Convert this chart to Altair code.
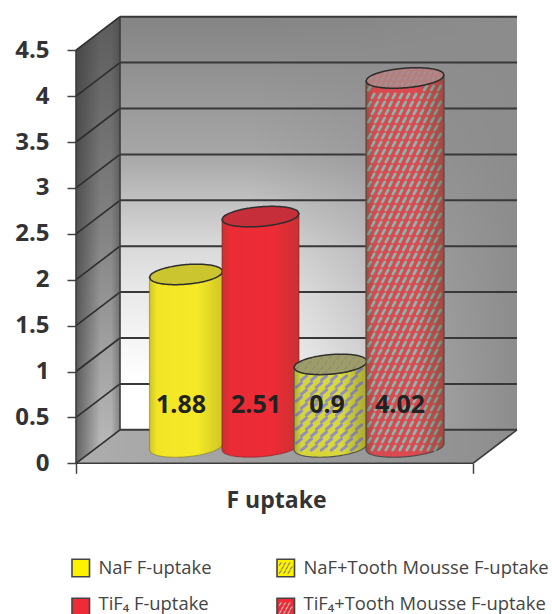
import altair as alt
import numpy as np
import pandas as pd

# Measured fluoride uptake per treatment
groups = ["NaF F-uptake", "TiF₄ F-uptake", "NaF+Tooth Mousse F-uptake", "TiF₄+Tooth Mousse F-uptake"]
uptake = [1.88, 2.51, 0.9, 4.02]
y_ticks = [0, 0.5, 1, 1.5, 2, 2.5, 3, 3.5, 4, 4.5]
axis_title = "F uptake"

# Layout of the pseudo-3D box, in chart pixels
W, H = 552, 614
FRONT_L, FRONT_R = 76, 473
DEPTH_X, DEPTH_Y = 44, 33.5
Y0_PX, PX_PER_UNIT = 463.3, 91.8
centers = [186, 260.5, 330.5, 405]
half_widths = [36.5, 38.5, 36.5, 39]
label_x = [181, 256, 327, 400]
CAP_B, CAP_TILT = 9.8, 3.0


def val(px):
    """Pixel height expressed in axis units."""
    return (Y0_PX - px) / PX_PER_UNIT


RISE = DEPTH_Y / PX_PER_UNIT
x_scale = alt.Scale(domain=[0, W], range=[0, W], nice=False, zero=False)
y_scale = alt.Scale(domain=[val(H), val(0)], range=[H, 0], nice=False, zero=False)

# Every layer carries the same axis definition so they merge into one pair of axes
x_axis = alt.Axis(values=[FRONT_L, FRONT_R], labels=False, domain=False, grid=False,
                  orient="bottom", offset=Y0_PX - H, tickSize=10, tickWidth=1.5,
                  tickColor="#444444", title=axis_title, titleFont="Open Sans",
                  titleFontSize=23, titleFontWeight="bold", titleColor="#333333",
                  titleX=276, titleY=26)
y_axis = alt.Axis(values=y_ticks, format="~g", domain=False, grid=False, orient="left", offset=-FRONT_L,
                  tickSize=9, tickWidth=1.5, tickColor="#444444", labelPadding=18,
                  labelFont="Open Sans", labelFontSize=24, labelFontWeight="bold",
                  labelColor="#333333", title=None)
X = lambda f: alt.X(f, type="quantitative", scale=x_scale, axis=x_axis)
Y = lambda f: alt.Y(f, type="quantitative", scale=y_scale, axis=y_axis)


def hgrad(stops):
    return alt.Gradient(gradient="linear", x1=0, x2=1, y1=0, y2=0,
                        stops=[alt.GradientStop(offset=o, color=c) for o, c in stops])


def vgrad(stops):
    return alt.Gradient(gradient="linear", x1=0, x2=0, y1=0, y2=1,
                        stops=[alt.GradientStop(offset=o, color=c) for o, c in stops])


def area(df, **mark):
    return alt.Chart(df).mark_area(orient="vertical", **mark).encode(
        x=X("x"), y=Y("y"), y2=alt.Y2("y2"))


def rules(df, **mark):
    return alt.Chart(df).mark_rule(**mark).encode(
        x=X("x"), x2=alt.X2("x2"), y=Y("y"), y2=alt.Y2("y2"))


layers = []

# Back wall: light towards the floor, darker towards the top and the right
back = pd.DataFrame({"x": [FRONT_L + DEPTH_X, FRONT_R + DEPTH_X],
                     "y": [4.5 + RISE] * 2, "y2": [RISE] * 2})
layers.append(area(back, color=vgrad([(0, "#848484"), (0.33, "#a6a6a6"), (0.44, "#c0c0c0"), (0.55, "#d8d8d8"),
                                      (0.66, "#e8e8e8"), (0.78, "#f5f5f5"), (0.88, "#ffffff"), (1, "#ffffff")])))
layers.append(area(back, color=hgrad([(0, "rgba(140,140,140,0)"), (0.33, "rgba(140,140,140,0)"),
                                      (0.6, "rgba(140,140,140,0.35)"), (0.82, "rgba(140,140,140,0.85)"),
                                      (1, "rgba(140,140,140,1)")])))

# Side wall
side = pd.DataFrame({"x": [FRONT_L, FRONT_L + DEPTH_X], "y": [4.5, 4.5 + RISE], "y2": [0, RISE]})
layers.append(area(side, color=vgrad([(0, "#5c5c5c"), (0.45, "#808080"), (1, "#bcbcbc")])))
layers.append(area(side, color=hgrad([(0, "rgba(60,60,60,0.7)"), (0.55, "rgba(60,60,60,0)"),
                                      (0.8, "rgba(60,60,60,0)"), (1, "rgba(60,60,60,0.4)")])))

# Floor
floor = pd.DataFrame({"x": [FRONT_L, FRONT_L + DEPTH_X], "x2": [FRONT_R, FRONT_R + DEPTH_X], "y": [0, RISE]})
layers.append(alt.Chart(floor).mark_area(orient="horizontal", color=hgrad([(0, "#adadad"), (1, "#8e8e8e")])).encode(
    y=Y("y"), x=X("x"), x2=alt.X2("x2")))

# Gridlines along the back wall and across the side wall
ticks = np.array(y_ticks, dtype=float)
grid_back = pd.DataFrame({"x": FRONT_L + DEPTH_X, "x2": FRONT_R + DEPTH_X, "y": ticks + RISE, "y2": ticks + RISE})
grid_side = pd.DataFrame({"x": FRONT_L, "x2": FRONT_L + DEPTH_X, "y": ticks, "y2": ticks + RISE})
layers.append(rules(grid_back, color="#383838", strokeWidth=2))
layers.append(rules(grid_side, color="#2e2e2e", strokeWidth=1.6))

# Box edges
edges = pd.DataFrame({
    "x": [FRONT_L, FRONT_L + DEPTH_X, FRONT_L, FRONT_R],
    "x2": [FRONT_L, FRONT_L + DEPTH_X, FRONT_R, FRONT_R + DEPTH_X],
    "y": [0, RISE, 0, 0],
    "y2": [4.5, 4.5 + RISE, 0, RISE],
})
layers.append(rules(edges, color="#3c3c3c", strokeWidth=1.6))


def cap_edges(cx, a, level, n=61):
    """Upper and lower arcs of a tilted elliptical cap, with the centre at axis value `level`."""
    xs = np.linspace(cx - a, cx + a, n)
    u = (xs - cx) / a
    arc = np.sqrt(np.clip(1 - u ** 2, 0, 1)) * CAP_B / PX_PER_UNIT
    tilt = u * CAP_TILT / PX_PER_UNIT
    return xs, level + tilt + arc, level + tilt - arc


def hatch(x_lo, x_hi, top_fn, bottom_fn, dx, dy, run, rise):
    """Staggered diagonal dashes kept inside the given outline."""
    seg = []
    for r, py in enumerate(np.arange(0, H, dy)):
        for px in np.arange(x_lo - dx + (r % 2) * dx / 2, x_hi + dx, dx):
            x1, x2, p1, p2 = px - run, px + run, py + rise, py - rise
            if x1 < x_lo + 0.5 or x2 > x_hi - 0.5:
                continue
            if val(p2) > top_fn(x2) or val(p1) > top_fn(x1) or val(p1) < bottom_fn(x1) or val(p2) < bottom_fn(x2):
                continue
            seg.append({"x": x1, "x2": x2, "y": val(p1), "y2": val(p2)})
    return pd.DataFrame(seg)


styles = [
    dict(base="#f6ea26", cap="#cbc630", hatch=None, outline="rgba(120,120,40,0.5)", edge=0.22),
    dict(base="#ee2b36", cap="#c62f3a", hatch=None, outline="rgba(120,30,40,0.5)", edge=0.22),
    dict(base="#d9d93c", cap="#9d9d6a", hatch="#9490c4", outline="#555555", size=(10, 7, 2.6, 2.2, 3.0),
         cap_hatch="#8a8a70", edge=0.34),
    dict(base="#dc4a50", cap="#b47f7f", hatch="#8ab8b0", outline="#4e4e4e", size=(7, 8, 1.2, 2.1, 2.8),
         cap_hatch="#a09a9a", edge=0.38),
]
BASE_LEVEL = val(447)

# Cylinders, drawn left to right so that each overlaps the previous one
for value, cx, a, st in zip(uptake, centers, half_widths, styles):
    top_level = BASE_LEVEL + value
    xs, top_up, top_lo = cap_edges(cx, a, top_level)
    _, bot_up, bot_lo = cap_edges(cx, a, BASE_LEVEL)
    body = pd.DataFrame({"x": xs, "y": top_lo, "y2": bot_lo})
    cap = pd.DataFrame({"x": xs, "y": top_up, "y2": top_lo})
    layers.append(area(body, color=st["base"], stroke=st["outline"], strokeWidth=1.2))
    if st["hatch"]:
        dx, dy, run, rise, sw = st["size"]
        dashes = hatch(cx - a, cx + a,
                       lambda x: np.interp(x, xs, top_lo),
                       lambda x: np.interp(x, xs, bot_lo), dx, dy, run, rise)
        layers.append(rules(dashes, color=st["hatch"], strokeWidth=sw, strokeCap="round"))
    layers.append(area(body, color=hgrad([(0, f"rgba(70,70,40,{st['edge']})"), (0.1, "rgba(70,70,40,0.03)"),
                                          (0.65, "rgba(70,70,40,0)"), (1, f"rgba(70,70,40,{st['edge']})")])))
    layers.append(area(cap, color=st["cap"]))
    if st["hatch"]:
        dx, dy, run, rise, sw = st["size"]
        cap_dashes = hatch(cx - a, cx + a,
                           lambda x: np.interp(x, xs, top_up),
                           lambda x: np.interp(x, xs, top_lo), dx * 0.8, dy * 0.7, 1.4, 1.6)
        layers.append(rules(cap_dashes, color=st["cap_hatch"], strokeWidth=1.6, opacity=0.7))
    layers.append(area(cap, fillOpacity=0, stroke="#2e2e2e", strokeWidth=1.5))

# Values printed on the cylinders
labels = pd.DataFrame({"x": label_x, "y": [val(405)] * 4, "t": [str(v) for v in uptake]})
layers.append(alt.Chart(labels).mark_text(font="Open Sans", fontSize=25, fontWeight="bold", color="#222222").encode(
    x=X("x"), y=Y("y"), text="t:N"))

# Legend: two columns of swatches with their captions
legend_x = [72, 72, 277, 277]
legend_y = [568, 607, 568, 607]
caption_y = [568, 604, 568, 604]
SW = 17.5
fills = ["#fff200", "#ee2b36", "#fff200", "#ee2b36"]
for gx, gy, fill, st in zip(legend_x, legend_y, fills, styles):
    sq = pd.DataFrame({"x": [gx], "x2": [gx + SW], "y": [val(gy - SW / 2)], "y2": [val(gy + SW / 2)]})
    layers.append(alt.Chart(sq).mark_rect(color=fill, stroke="#444444", strokeWidth=1.6).encode(
        x=X("x"), x2=alt.X2("x2"), y=Y("y"), y2=alt.Y2("y2")))
    if st["hatch"]:
        dashes = hatch(gx + 1, gx + SW - 1,
                       lambda x: val(gy - SW / 2 + 1),
                       lambda x: val(gy + SW / 2 - 1), 4.4, 4, 1.2, 1.6)
        layers.append(rules(dashes, color="#8f8f70" if fill == "#fff200" else "#b0b8b4", strokeWidth=1.3))

captions = pd.DataFrame({"x": [g + 26.5 for g in legend_x], "y": [val(p) for p in caption_y], "t": groups})
layers.append(alt.Chart(captions).mark_text(font="Open Sans", fontSize=18.4, color="#444444", align="left").encode(
    x=X("x"), y=Y("y"), text="t:N"))

chart = alt.layer(*layers).properties(
    width=W, height=H, padding=0, autosize=alt.AutoSizeParams(type="none"), background="white"
).configure_view(stroke=None)

chart.save("out.html", embed_options={"renderer": "svg", "actions": False})
